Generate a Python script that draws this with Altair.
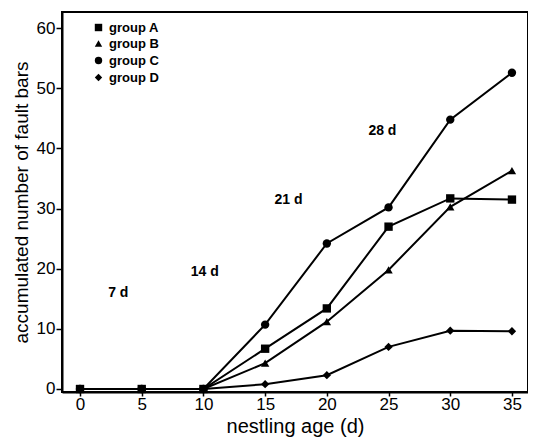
import altair as alt
import pandas as pd

ages = [0, 5, 10, 15, 20, 25, 30, 35]
group_a = [0, 0, 0, 6.7, 13.4, 27.0, 31.7, 31.5]
group_b = [0, 0, 0, 4.3, 11.2, 19.8, 30.3, 36.3]
group_c = [0, 0, 0, 10.7, 24.2, 30.2, 44.8, 52.6]
group_d = [0, 0, 0, 0.8, 2.3, 7.0, 9.7, 9.6]
groups = ["group A", "group B", "group C", "group D"]
shapes = ["square", "triangle-up", "circle", "diamond"]

ann_text = ["7 d", "14 d", "21 d", "28 d"]
ann_x = [3.1, 10.1, 16.9, 24.5]
ann_y = [16.0, 19.4, 31.4, 42.9]

rows = []
for g, vals in zip(groups, [group_a, group_b, group_c, group_d]):
    for a, v in zip(ages, vals):
        rows.append({"age": a, "value": v, "group": g})
df = pd.DataFrame(rows)
ann = pd.DataFrame({"text": ann_text, "x": ann_x, "y": ann_y})

xs = alt.Scale(domain=[-1.46, 36.3], nice=False, zero=False)
ys = alt.Scale(domain=[-0.5, 62.7], nice=False, zero=False)

x_enc = alt.X("age:Q", scale=xs, axis=alt.Axis(
    values=ages, title="nestling age (d)", grid=False, tickSize=4,
    domainColor="black", domainWidth=2, tickColor="black", tickWidth=1.5,
    labelFont="Liberation Sans", labelFontSize=17, labelColor="black", labelPadding=0,
    titleFont="Liberation Sans", titleFontSize=20, titleFontWeight="normal",
    titleColor="black", titlePadding=4))
y_enc = alt.Y("value:Q", scale=ys, axis=alt.Axis(
    values=[0, 10, 20, 30, 40, 50, 60], title="accumulated number of fault bars",
    grid=False, tickSize=6, domainColor="black", domainWidth=2, tickColor="black",
    tickWidth=1.5, labelFont="Liberation Sans", labelFontSize=17, labelColor="black",
    labelPadding=1, titleFont="Liberation Sans", titleFontSize=19,
    titleFontWeight="normal", titleColor="black", titlePadding=5))

lines = alt.Chart(df).mark_line(color="black", strokeWidth=2).encode(
    x=x_enc, y=y_enc, detail="group:N")

points = alt.Chart(df).mark_point(filled=True, color="black", opacity=1, size=70).encode(
    x="age:Q", y="value:Q",
    shape=alt.Shape("group:N", scale=alt.Scale(domain=groups, range=shapes),
                    legend=alt.Legend(orient="none", legendX=30, legendY=9, title=None,
                                      symbolFillColor="black", symbolStrokeColor="black",
                                      symbolSize=55, rowPadding=2, labelFont="Liberation Sans",
                                      labelFontSize=13, labelFontWeight="bold",
                                      labelColor="black", symbolOffset=0)))

labels = alt.Chart(ann).mark_text(font="Liberation Sans", fontSize=14, fontWeight="bold",
                                  color="black").encode(
    x=alt.X("x:Q", scale=xs), y=alt.Y("y:Q", scale=ys), text="text:N")

chart = alt.layer(lines, points, labels).properties(
    width=466, height=380,
    autosize=alt.AutoSizeParams(type="none"),
    padding={"left": 54, "top": 4, "right": 0, "bottom": 45},
    background="white",
).configure_view(stroke="black", strokeWidth=2)

chart.save("out.html", embed_options={"renderer": "svg", "actions": False})
